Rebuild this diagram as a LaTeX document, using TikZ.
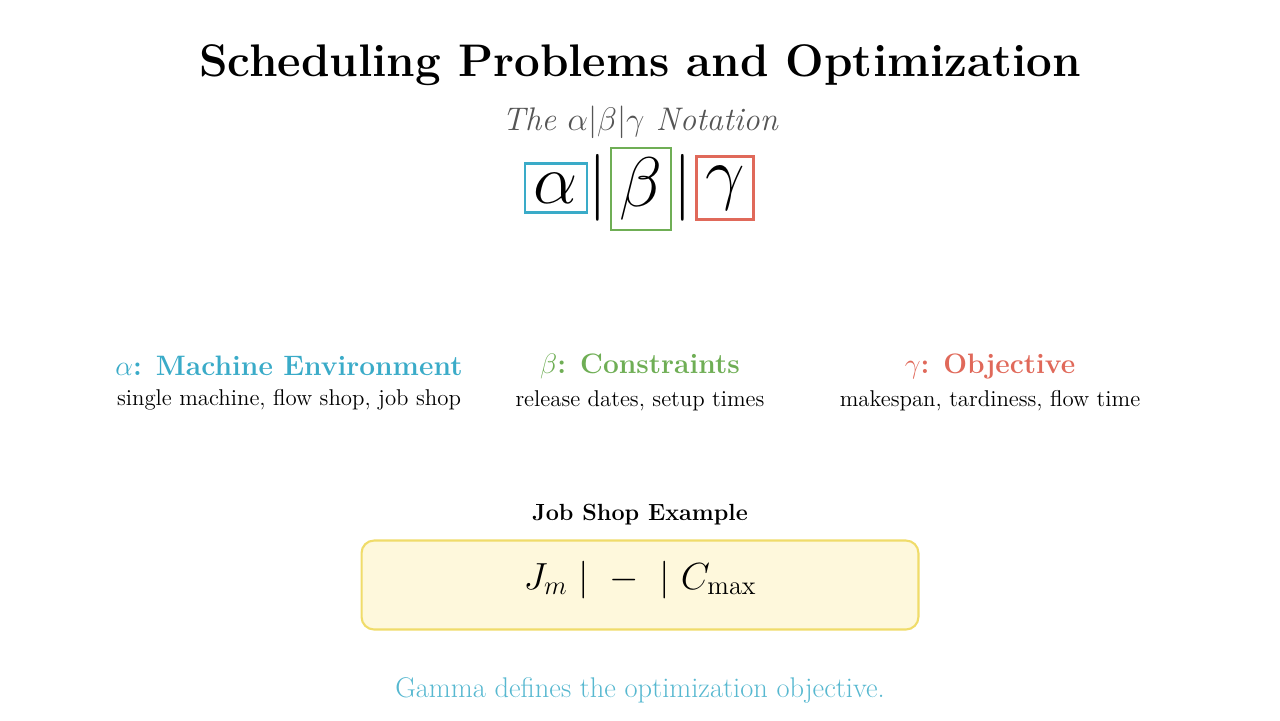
\RequirePackage{fix-cm}
\documentclass[tikz,border=0pt]{standalone}
\usepackage{tikz}
\usepackage{xcolor}
\usetikzlibrary{shapes,positioning,calc}

\definecolor{alphablue}{HTML}{3AABC8}
\definecolor{betagreen}{HTML}{6FAE55}
\definecolor{gammared}{HTML}{E0695A}
\definecolor{notegray}{HTML}{555555}
\definecolor{exfill}{HTML}{FEF8DC}
\definecolor{exdraw}{HTML}{F0DC6A}

\tikzset{
  symbox/.style={draw, line width=1.5pt, inner xsep=5pt, inner ysep=5.5pt, font=\fontsize{40}{48}\selectfont},
  symbar/.style={inner sep=0pt, font=\fontsize{38}{44}\selectfont},
  colhead/.style={anchor=base, font=\bfseries\fontsize{16}{19}\selectfont},
  coltext/.style={anchor=base, font=\fontsize{13}{16}\selectfont}
}

\begin{document}
\begin{tikzpicture}[x=0.02cm, y=-0.02cm]
				\useasboundingbox (0,0) rectangle (1280,720);
				
				\node[font=\bfseries\fontsize{26}{31}\selectfont] (title) at (640,65) {Scheduling Problems and Optimization};
				\node[font=\itshape\fontsize{18.6}{22}\selectfont, text=notegray] (notation) at (640,122) {The $\alpha|\beta|\gamma$ Notation};
				
				% the three fields
				\node[symbox, draw=alphablue] (alpha) at (556,188) {$\alpha$};
				\node[symbox, draw=betagreen] (beta) at (641,189) {$\beta$};
				\node[symbox, draw=gammared] (gamma) at (725,188) {$\gamma$};
				\node[symbar] (bar1) at (598,188) {$|$};
				\node[symbar] (bar2) at (683,188) {$|$};
				
				% columns
				\node[colhead, text=alphablue] (machine) at (289,375) {$\alpha$: Machine Environment};
				\node[coltext] (machinetxt) at (289,405) {single machine, flow shop, job shop};
				\node[colhead, text=betagreen] (constr) at (640,373) {$\beta$: Constraints};
				\node[coltext] (constrtxt) at (640,406) {release dates, setup times};
				\node[colhead, text=gammared] (obj) at (990,373) {$\gamma$: Objective};
				\node[coltext] (objtxt) at (990,406) {makespan, tardiness, flow time};
				
				% example
				\node[font=\bfseries\fontsize{13.3}{16}\selectfont] (extitle) at (640,515) {Job Shop Example};
				\node[draw=exdraw, fill=exfill, line width=1.2pt, rounded corners=0.25cm, minimum width=11.14cm, minimum height=1.78cm] (exbox) at (640,585) {};
				\node[anchor=base, font=\fontsize{21.5}{26}\selectfont] (exformula) at (640,589) {$J_m \mid \;-\; \mid C_{\max}$};
				\node[text=alphablue!85, font=\fontsize{16.2}{19}\selectfont] (remark) at (640,690) {Gamma defines the optimization objective.};
			\end{tikzpicture}
\end{document}
